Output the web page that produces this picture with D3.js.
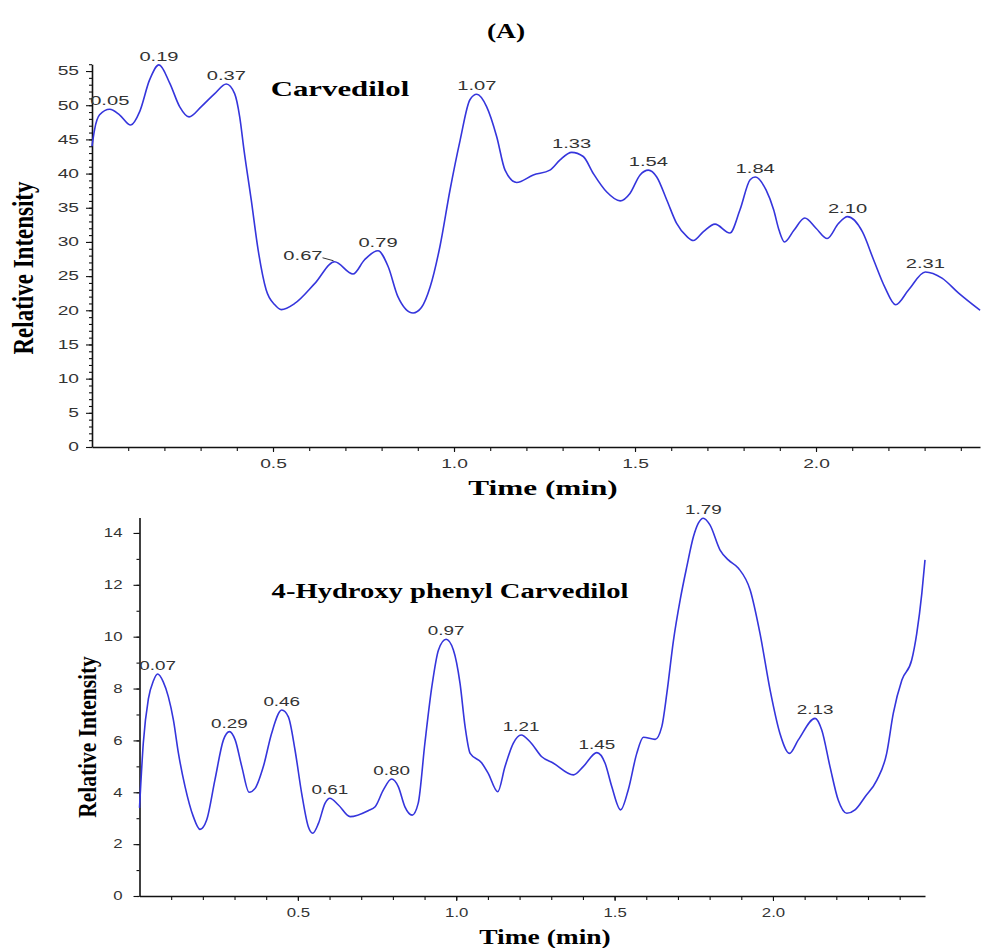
<!DOCTYPE html>
<html>
<head>
<meta charset="utf-8">
<script src="https://cdn.jsdelivr.net/npm/d3@7"></script>
<style>
  body { margin: 0; background: #fff; }
  svg { display: block; }
  .tick text { font-family: "Liberation Sans", Arial, sans-serif; fill: #333; }
  .domain, .tick line { stroke: #111; }
</style>
</head>
<body>
<div id="chart"></div>
<script>
// Carvedilol chromatogram (top)
const topTime = [0, 0.007, 0.021, 0.049, 0.076, 0.107, 0.132, 0.159, 0.185, 0.215, 0.242, 0.268, 0.302, 0.339, 0.371, 0.394, 0.408, 0.42, 0.44, 0.459, 0.481, 0.505, 0.523, 0.56, 0.615, 0.67, 0.721, 0.753, 0.79, 0.818, 0.845, 0.887, 0.91, 0.934, 0.961, 0.989, 1.017, 1.044, 1.063, 1.09, 1.118, 1.141, 1.173, 1.219, 1.265, 1.293, 1.325, 1.357, 1.385, 1.422, 1.459, 1.486, 1.514, 1.537, 1.56, 1.588, 1.615, 1.643, 1.661, 1.689, 1.721, 1.762, 1.79, 1.818, 1.832, 1.862, 1.883, 1.898, 1.913, 1.939, 1.969, 2.0, 2.031, 2.062, 2.087, 2.128, 2.159, 2.19, 2.22, 2.256, 2.302, 2.348, 2.394, 2.453];
const topIntensity = [44.0, 46.4, 48.6, 49.4, 48.6, 47.1, 49.1, 53.7, 55.9, 53.2, 49.8, 48.3, 49.8, 51.7, 53.1, 51.7, 48.3, 43.4, 36.1, 28.8, 23.0, 20.8, 20.1, 21.0, 23.9, 27.1, 25.3, 27.4, 28.7, 26.4, 22.0, 19.6, 20.4, 23.4, 29.3, 37.6, 44.9, 50.8, 51.6, 49.8, 45.4, 40.5, 38.7, 39.8, 40.5, 42.0, 43.1, 42.5, 40.0, 37.3, 36.0, 37.1, 39.8, 40.5, 39.5, 36.1, 32.7, 30.8, 30.2, 31.5, 32.6, 31.3, 34.7, 39.1, 39.5, 37.6, 34.7, 31.7, 30.0, 31.7, 33.5, 32.0, 30.5, 32.7, 33.7, 31.5, 27.4, 23.4, 20.8, 23.0, 25.6, 24.7, 22.5, 20.0];
const topPeakLabels = ["0.05", "0.19", "0.37", "0.67", "0.79", "1.07", "1.33", "1.54", "1.84", "2.10", "2.31"];
const topPeakTimes = [0.049, 0.185, 0.371, 0.67, 0.79, 1.063, 1.325, 1.537, 1.832, 2.087, 2.302];
const topYTicks = [0, 5, 10, 15, 20, 25, 30, 35, 40, 45, 50, 55];

// 4-Hydroxy phenyl Carvedilol chromatogram (bottom)
const botTime = [0, 0.004, 0.012, 0.028, 0.044, 0.057, 0.075, 0.091, 0.107, 0.123, 0.144, 0.17, 0.191, 0.212, 0.238, 0.265, 0.284, 0.302, 0.323, 0.346, 0.365, 0.391, 0.417, 0.449, 0.47, 0.491, 0.512, 0.533, 0.547, 0.565, 0.586, 0.601, 0.628, 0.665, 0.722, 0.744, 0.77, 0.796, 0.817, 0.838, 0.861, 0.88, 0.901, 0.923, 0.944, 0.968, 0.991, 1.012, 1.028, 1.044, 1.08, 1.101, 1.131, 1.154, 1.18, 1.205, 1.233, 1.27, 1.307, 1.37, 1.401, 1.444, 1.47, 1.491, 1.519, 1.543, 1.57, 1.591, 1.628, 1.649, 1.665, 1.686, 1.707, 1.728, 1.749, 1.764, 1.78, 1.801, 1.833, 1.859, 1.891, 1.928, 1.959, 1.991, 2.022, 2.052, 2.08, 2.133, 2.154, 2.18, 2.206, 2.233, 2.259, 2.291, 2.328, 2.359, 2.38, 2.407, 2.438, 2.454, 2.47, 2.48];
const botIntensity = [3.4, 4.3, 5.9, 7.6, 8.3, 8.56, 8.26, 7.69, 6.79, 5.5, 4.21, 3.06, 2.57, 2.93, 4.47, 6.02, 6.34, 6.02, 4.99, 4.0, 4.15, 4.99, 6.27, 7.17, 6.91, 5.63, 3.96, 2.67, 2.42, 2.8, 3.58, 3.77, 3.51, 3.06, 3.29, 3.44, 4.09, 4.51, 4.22, 3.44, 3.12, 3.58, 5.89, 8.07, 9.49, 9.9, 9.49, 8.2, 6.53, 5.5, 5.14, 4.73, 4.02, 4.99, 5.89, 6.21, 5.95, 5.37, 5.12, 4.67, 4.99, 5.53, 5.12, 4.22, 3.32, 4.09, 5.5, 6.12, 6.04, 6.53, 7.82, 9.87, 11.42, 12.7, 13.86, 14.37, 14.57, 14.31, 13.34, 12.96, 12.64, 11.8, 10.13, 7.94, 6.27, 5.5, 6.02, 6.85, 6.4, 4.99, 3.7, 3.19, 3.32, 3.83, 4.47, 5.5, 7.05, 8.33, 9.1, 10.13, 11.67, 12.96];
const botPeakLabels = ["0.07", "0.29", "0.46", "0.61", "0.80", "0.97", "1.21", "1.45", "1.79", "2.13"];
const botPeakTimes = [0.057, 0.284, 0.449, 0.601, 0.796, 0.968, 1.205, 1.444, 1.78, 2.133];
const botYTicks = [0, 2, 4, 6, 8, 10, 12, 14];

const xTickLabels = [0.5, 1.0, 1.5, 2.0];

const W = 981, H = 948;
const lineColor = "#3535dc";
const serif = '"Liberation Serif", "Times New Roman", serif';
const sans = '"Liberation Sans", Arial, sans-serif';

const svg = d3.select("#chart").append("svg")
    .attr("width", W)
    .attr("height", H);

svg.append("rect").attr("width", W).attr("height", H).attr("fill", "#fff");

// text that is stretched sideways, like the scanned figure
function wideText(x, y, str, o) {
    const t = svg.append("text")
        .attr("transform", `translate(${x},${y}) scale(${o.sx || 1},1)` + (o.rotate ? " rotate(-90)" : ""))
        .attr("text-anchor", o.anchor || "middle")
        .attr("font-family", o.family || serif)
        .attr("font-weight", o.weight || "bold")
        .attr("font-size", o.size)
        .attr("fill", o.fill || "#000")
        .text(str);
    return t;
}

function drawPanel(p) {
    const x = d3.scaleLinear().domain(p.xDomain).range(p.xRange);
    const y = d3.scaleLinear().domain(p.yDomain).range(p.yRange);
    const g = svg.append("g");

    // minor ticks
    g.append("g")
        .attr("transform", `translate(0,${p.yRange[0]})`)
        .call(d3.axisBottom(x).tickValues(d3.range(1, Math.floor(p.xDomain[1] * 10) + 1).map(d => d / 10))
            .tickSize(4).tickSizeOuter(0).tickFormat(""))
        .call(a => a.select(".domain").remove());
    g.append("g")
        .attr("transform", `translate(${p.xRange[0]},0)`)
        .call(d3.axisLeft(y).tickValues(d3.range(0, Math.floor(p.yDomain[1]) + 1))
            .tickSize(3).tickSizeOuter(0).tickFormat(""))
        .call(a => a.select(".domain").remove());

    // main axes
    const xa = g.append("g")
        .attr("transform", `translate(0,${p.yRange[0]})`)
        .call(d3.axisBottom(x).tickValues(xTickLabels).tickSize(5).tickSizeOuter(0)
            .tickPadding(7).tickFormat(d3.format(".1f")));
    xa.selectAll(".tick text")
        .attr("font-size", p.tickSize)
        .attr("transform", `scale(${p.tickSx},1)`);

    const ya = g.append("g")
        .attr("transform", `translate(${p.xRange[0]},0)`)
        .call(d3.axisLeft(y).tickValues(p.yTicks).tickSize(6).tickSizeOuter(0).tickPadding(3));
    ya.selectAll(".tick text")
        .attr("font-size", p.tickSize)
        .attr("x", -p.yLabelGap / p.tickSx)
        .attr("transform", `scale(${p.tickSx},1)`);

    g.selectAll(".domain").attr("stroke-width", 1.6);
    g.selectAll(".tick line").attr("stroke-width", 1.1);

    // chromatogram trace
    const data = p.time.map((t, i) => ({ t: t, v: p.values[i] }));
    const line = d3.line()
        .x(d => x(d.t))
        .y(d => y(d.v))
        .curve(d3.curveMonotoneX);
    g.append("path")
        .datum(data)
        .attr("fill", "none")
        .attr("stroke", lineColor)
        .attr("stroke-width", 1.6)
        .attr("d", line);

    // peak retention-time labels
    p.peakLabels.forEach((lab, i) => {
        const pt = data.reduce((a, b) => Math.abs(b.t - p.peakTimes[i]) < Math.abs(a.t - p.peakTimes[i]) ? b : a);
        const px = x(pt.t), py = y(pt.v);
        if (lab === "0.67") {
            g.append("line")
                .attr("x1", px - 12).attr("y1", py - 4)
                .attr("x2", px - 1).attr("y2", py - 1)
                .attr("stroke", "#333").attr("stroke-width", 1);
            wideText(px - 12, py - 2, lab, { size: 13, sx: p.labelSx, anchor: "end", family: sans, weight: "normal", fill: "#333" });
        } else {
            wideText(px, py - 4, lab, { size: 13, sx: p.labelSx, family: sans, weight: "normal", fill: "#333" });
        }
    });
}

drawPanel({
    xDomain: [0, 2.453], xRange: [92, 980],
    yDomain: [0, 56], yRange: [447, 64.2],
    time: topTime, values: topIntensity,
    peakLabels: topPeakLabels, peakTimes: topPeakTimes,
    yTicks: topYTicks, tickSize: 12, tickSx: 1.6, yLabelGap: 13, labelSx: 1.55
});

drawPanel({
    xDomain: [0, 2.48], xRange: [139.5, 925],
    yDomain: [0, 14.6], yRange: [896, 517.4],
    time: botTime, values: botIntensity,
    peakLabels: botPeakLabels, peakTimes: botPeakTimes,
    yTicks: botYTicks, tickSize: 12, tickSx: 1.4, yLabelGap: 17, labelSx: 1.45
});

// titles
wideText(506, 38, "(A)", { size: 22, sx: 1.25 });
wideText(340, 96, "Carvedilol", { size: 22, sx: 1.4 });
wideText(450, 598, "4-Hydroxy phenyl Carvedilol", { size: 22, sx: 1.3 });
wideText(543, 495, "Time (min)", { size: 22, sx: 1.42 });
wideText(545, 944, "Time (min)", { size: 22, sx: 1.25 });
wideText(33, 268, "Relative Intensity", { size: 23, sx: 1.3, rotate: true });
wideText(96, 737, "Relative Intensity", { size: 21.5, sx: 1.2, rotate: true });
</script>
</body>
</html>
